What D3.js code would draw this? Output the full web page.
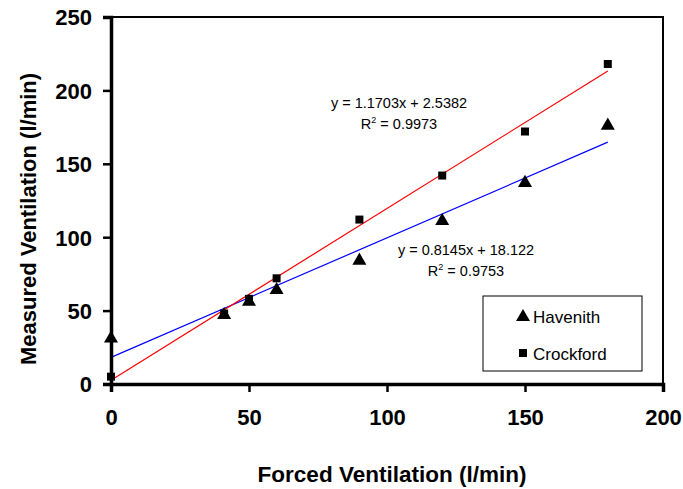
<!DOCTYPE html>
<html><head><meta charset="utf-8">
<script src="https://cdn.jsdelivr.net/npm/d3@7"></script>
<style>body{margin:0;background:#fff}svg{display:block}text{font-family:"Liberation Sans",Arial,sans-serif}</style>
</head><body><div id="chart"></div>
<script>
const forced = [0, 41, 50, 60, 90, 120, 150, 180];
const havenith = [31, 47, 56, 64, 84, 111, 137, 176];
const crockford = [5, 48, 58, 72, 112, 142, 172, 218];
const seriesNames = ["Havenith", "Crockford"];
const trendSlopes = [0.8145, 1.1703];
const trendIntercepts = [18.122, 2.5382];
const trendR2 = [0.9753, 0.9973];
const trendColors = ["#0000ff", "#ff0000"];
const xTicks = [0, 50, 100, 150, 200];
const yTicks = [0, 50, 100, 150, 200, 250];

const W = 683, H = 489;
const m = {l: 111, r: 20, t: 17, b: 105};
const svg = d3.select("#chart").append("svg").attr("width", W).attr("height", H);
const x = d3.scaleLinear().domain([0, 200]).range([m.l, W - m.r]);
const y = d3.scaleLinear().domain([0, 250]).range([H - m.b, m.t]);

// frame (top/right)
svg.append("rect").attr("x", x(0)).attr("y", y(250)).attr("width", x(200) - x(0)).attr("height", y(0) - y(250))
  .attr("fill", "none").attr("stroke", "#000").attr("stroke-width", 2);

// trendlines
[0, 1].forEach(i => {
  svg.append("line")
    .attr("x1", x(0)).attr("y1", y(trendIntercepts[i]))
    .attr("x2", x(180)).attr("y2", y(trendSlopes[i] * 180 + trendIntercepts[i]))
    .attr("stroke", trendColors[i]).attr("stroke-width", 1.2);
});

// axes
const xAxis = svg.append("g").attr("transform", `translate(0,${y(0)})`)
  .call(d3.axisBottom(x).tickValues(xTicks).tickSize(8).tickPadding(17));
const yAxis = svg.append("g").attr("transform", `translate(${x(0)},0)`)
  .call(d3.axisLeft(y).tickValues(yTicks).tickSize(8).tickPadding(11));
[xAxis, yAxis].forEach(g => {
  g.select(".domain").attr("stroke-width", 3.5).attr("stroke", "#000");
  g.selectAll(".tick line").attr("stroke-width", 2.5).attr("stroke", "#000");
  g.selectAll(".tick text").attr("font-size", 22).attr("font-weight", "bold")
    .attr("font-family", "Liberation Sans, Arial, sans-serif").attr("fill", "#000");
});
yAxis.selectAll(".tick text").attr("dy", "0.36em");

// markers
const tri = d3.symbol().type(d3.symbolTriangle).size(85);
svg.append("g").selectAll("path").data(forced).join("path")
  .attr("d", tri).attr("transform", (d, i) => `translate(${x(d)},${y(havenith[i])})`).attr("fill", "#000");
svg.append("g").selectAll("rect").data(forced).join("rect")
  .attr("x", (d) => x(d) - 4).attr("y", (d, i) => y(crockford[i]) - 4)
  .attr("width", 8).attr("height", 8).attr("fill", "#000");

// equations
function eq(cx, by, i) {
  svg.append("text").attr("x", cx).attr("y", by).attr("text-anchor", "middle").attr("font-size", 14.5)
    .text(`y = ${trendSlopes[i]}x + ${trendIntercepts[i]}`);
  const t = svg.append("text").attr("x", cx).attr("y", by + 21).attr("text-anchor", "middle").attr("font-size", 14.5);
  t.append("tspan").text("R");
  t.append("tspan").attr("font-size", 9).attr("dy", -6).text("2");
  t.append("tspan").attr("dy", 6).text(` = ${trendR2[i]}`);
}
eq(399, 108, 1);
eq(466, 255, 0);

// legend
svg.append("rect").attr("x", 483).attr("y", 296).attr("width", 159).attr("height", 75)
  .attr("fill", "#fff").attr("stroke", "#000").attr("stroke-width", 1);
svg.append("path").attr("d", tri).attr("transform", `translate(523,317)`).attr("fill", "#000");
svg.append("rect").attr("x", 519).attr("y", 349).attr("width", 8).attr("height", 8).attr("fill", "#000");
svg.append("text").attr("x", 533).attr("y", 323).attr("font-size", 17).text(seriesNames[0]);
svg.append("text").attr("x", 533).attr("y", 360).attr("font-size", 17).text(seriesNames[1]);

// axis titles
svg.append("text").attr("x", 392).attr("y", 482).attr("text-anchor", "middle")
  .attr("font-size", 22.5).attr("font-weight", "bold").text("Forced Ventilation (l/min)");
svg.append("text").attr("transform", `translate(36,219) rotate(-90)`)
  .attr("text-anchor", "middle").attr("font-size", 22).attr("font-weight", "bold").text("Measured Ventilation (l/min)");
</script></body></html>
